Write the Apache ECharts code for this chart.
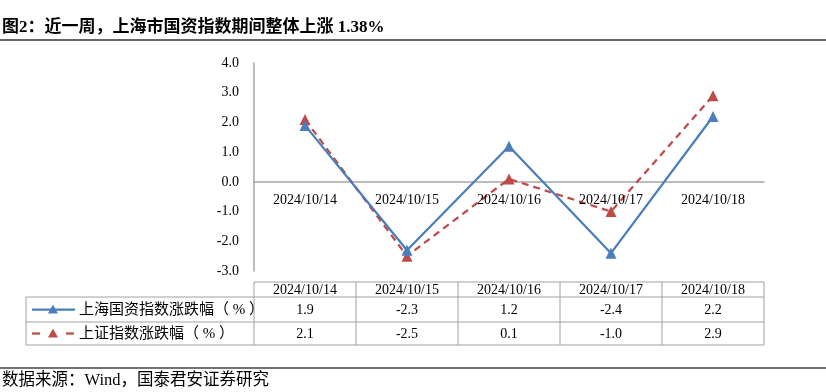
<!DOCTYPE html>
<html>
<head>
<meta charset="utf-8">
<script src="https://cdn.jsdelivr.net/npm/echarts@6/dist/echarts.min.js"></script>
<style>
  html, body { margin: 0; padding: 0; background: #fff; }
  #main { width: 826px; height: 392px; }
</style>
</head>
<body>
<div id="main"></div>
<script>
var categories = ['2024/10/14', '2024/10/15', '2024/10/16', '2024/10/17', '2024/10/18'];
var shGuozi = [1.9, -2.3, 1.2, -2.4, 2.2];
var shIndex = [2.1, -2.5, 0.1, -1.0, 2.9];
var seriesNames = ['上海国资指数涨跌幅（ % ）', '上证指数涨跌幅（ % ）'];

var FONT = '"Liberation Serif", "Times New Roman", "Noto Sans CJK SC", serif';
var BLUE = '#4a7ebb';
var RED = '#be4b48';
var GRID_LINE = '#a6a6a6';
var TABLE_LINE = '#a0a0a0';

var chart = echarts.init(document.getElementById('main'));

chart.setOption({
    animation: false,
    grid: { left: 254, right: 62, top: 63, bottom: 121, containLabel: false },
    xAxis: {
        type: 'category',
        data: categories,
        axisLine: { onZero: true, lineStyle: { color: GRID_LINE, width: 1.5 } },
        axisTick: { show: false },
        // labels sit next to the zero line, drawn below as graphic text
        axisLabel: { show: false },
        splitLine: { show: false }
    },
    yAxis: {
        type: 'value',
        min: -3,
        max: 4,
        interval: 1,
        axisLine: { show: true, onZero: false, lineStyle: { color: GRID_LINE, width: 1.5 } },
        axisTick: { show: false },
        splitLine: { show: false },
        axisLabel: {
            color: '#000', fontFamily: FONT, fontSize: 14, margin: 15,
            formatter: function (v) { return v.toFixed(1); }
        }
    },
    series: [
        {
            name: seriesNames[1],
            type: 'line',
            data: shIndex,
            symbol: 'triangle',
            symbolSize: 11,
            lineStyle: { color: RED, width: 2.25, type: [7, 5] },
            itemStyle: { color: RED }
        },
        {
            name: seriesNames[0],
            type: 'line',
            data: shGuozi,
            symbol: 'triangle',
            symbolSize: 11,
            lineStyle: { color: BLUE, width: 2.25 },
            itemStyle: { color: BLUE }
        }
    ]
});

// data table and page text drawn as graphic elements
function buildGraphic() {
    var els = [];
    var tableLeft = 26, colLeft = 254, tableRight = 764;
    var headTop = 282, row1Top = 297, row2Top = 322, bottom = 345;
    var lineStyle = { stroke: TABLE_LINE, lineWidth: 1 };

    function hline(x1, x2, y) {
        els.push({ type: 'line', shape: { x1: x1, y1: y, x2: x2, y2: y }, style: lineStyle, silent: true });
    }
    function vline(x, y1, y2) {
        els.push({ type: 'line', shape: { x1: x, y1: y1, x2: x, y2: y2 }, style: lineStyle, silent: true });
    }
    function text(t, x, y, align, opts) {
        els.push({
            type: 'text', x: x, y: y, silent: true, z: 10,
            style: Object.assign({
                text: t, fill: '#000', font: '14px ' + FONT,
                textAlign: align || 'center', textVerticalAlign: 'middle'
            }, opts || {})
        });
    }

    hline(colLeft, tableRight, headTop);
    hline(tableLeft, tableRight, row1Top);
    hline(tableLeft, tableRight, row2Top);
    hline(tableLeft, tableRight, bottom);
    vline(tableLeft, row1Top, bottom);
    vline(colLeft, headTop, bottom);

    var zeroY = chart.convertToPixel({ yAxisIndex: 0 }, 0);
    var step = (tableRight - colLeft) / categories.length;
    for (var i = 0; i < categories.length; i++) {
        vline(colLeft + step * (i + 1), headTop, bottom);
        var cx = chart.convertToPixel({ xAxisIndex: 0 }, categories[i]);
        text(categories[i], cx, zeroY + 18);
        text(categories[i], cx, (headTop + row1Top) / 2 + 1);
        text(shGuozi[i].toFixed(1), cx, (row1Top + row2Top) / 2 + 1);
        text(shIndex[i].toFixed(1), cx, (row2Top + bottom) / 2 + 1);
    }

    // legend keys in the table
    var y1 = (row1Top + row2Top) / 2, y2 = (row2Top + bottom) / 2;
    els.push({ type: 'line', shape: { x1: 32, y1: y1, x2: 75, y2: y1 }, style: { stroke: BLUE, lineWidth: 2.25 }, silent: true });
    els.push({ type: 'polygon', shape: { points: [[53, y1 - 5], [58, y1 + 4], [48, y1 + 4]] }, style: { fill: BLUE }, silent: true });
    els.push({ type: 'line', shape: { x1: 32, y1: y2, x2: 40, y2: y2 }, style: { stroke: RED, lineWidth: 2.25 }, silent: true });
    els.push({ type: 'line', shape: { x1: 66, y1: y2, x2: 74, y2: y2 }, style: { stroke: RED, lineWidth: 2.25 }, silent: true });
    els.push({ type: 'polygon', shape: { points: [[53, y2 - 5], [58, y2 + 4], [48, y2 + 4]] }, style: { fill: RED }, silent: true });
    text(seriesNames[0], 79, y1 + 1, 'left', { font: '15px ' + FONT });
    text(seriesNames[1], 79, y2 + 1, 'left', { font: '15px ' + FONT });

    // title and source
    text('图2：近一周，上海市国资指数期间整体上涨 1.38%', 2, 28, 'left', { font: 'bold 17px ' + FONT });
    els.push({ type: 'line', shape: { x1: 0, y1: 40, x2: 826, y2: 40 }, style: { stroke: '#333', lineWidth: 1.5 }, silent: true });
    els.push({ type: 'line', shape: { x1: 0, y1: 368, x2: 826, y2: 368 }, style: { stroke: '#444', lineWidth: 1.5 }, silent: true });
    text('数据来源：Wind，国泰君安证券研究', 2, 381, 'left', { font: '16.5px ' + FONT });

    return els;
}

chart.setOption({ graphic: buildGraphic() });
</script>
</body>
</html>
